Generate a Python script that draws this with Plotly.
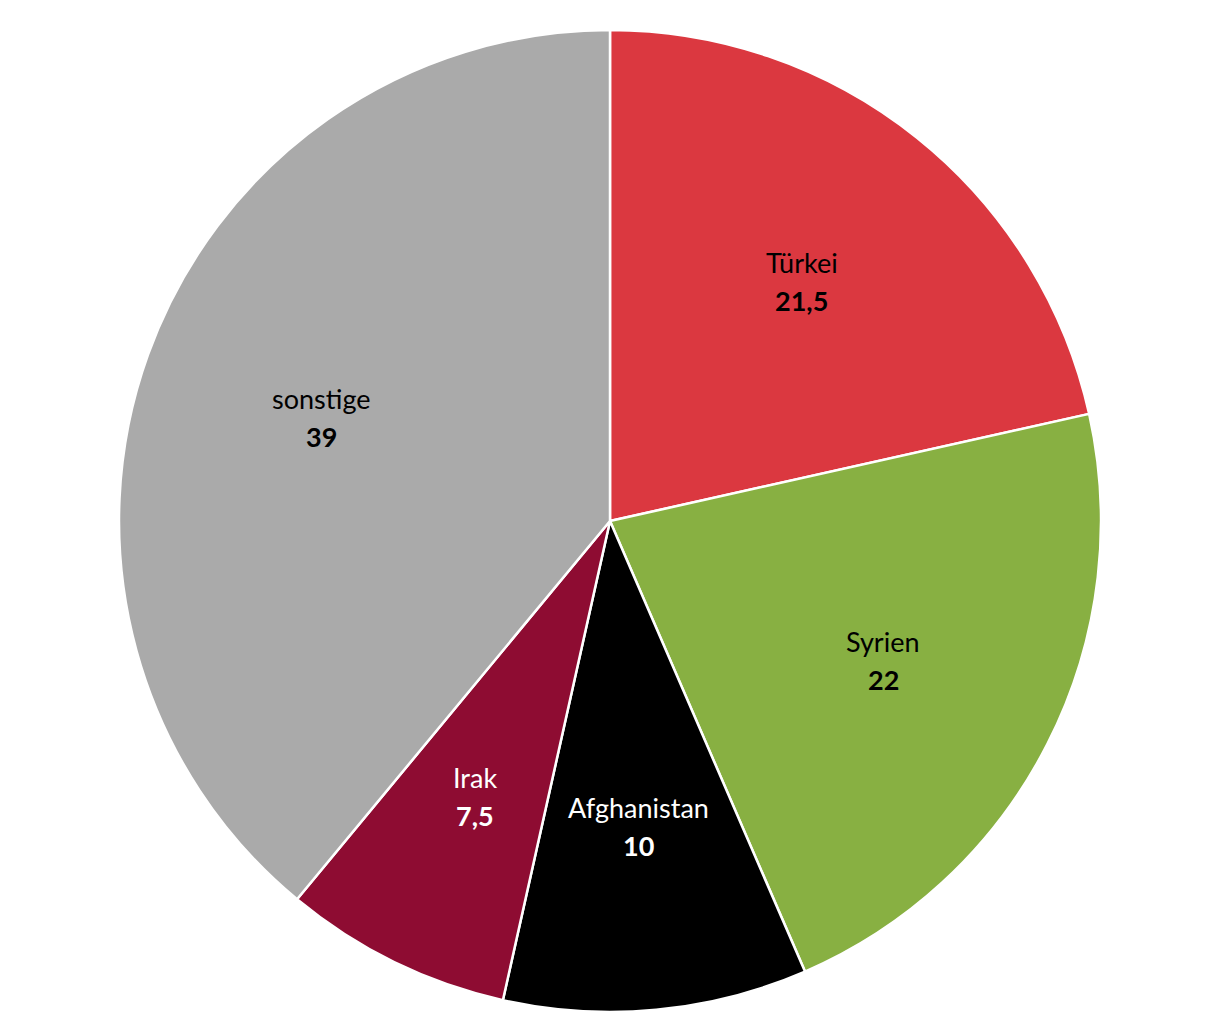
import math
import plotly.graph_objects as go

labels = ["Türkei", "Syrien", "Afghanistan", "Irak", "sonstige"]
values = [21.5, 22, 10, 7.5, 39]
value_text = ["21,5", "22", "10", "7,5", "39"]
colors = ["#DB3840", "#88B042", "#000000", "#8E0C32", "#AAAAAA"]
text_colors = ["#000000", "#000000", "#FFFFFF", "#FFFFFF", "#000000"]

W, H = 1220, 1024
# pie placement (figure pixels; page has 8px body offset)
cx, cy, R = 602, 513, 491
dom_x = [(cx - R) / W, (cx + R) / W]
dom_y = [1 - (cy + R) / H, 1 - (cy - R) / H]

fig = go.Figure(go.Pie(
    labels=labels,
    values=values,
    sort=False,
    direction="clockwise",
    rotation=0,
    marker=dict(colors=colors, line=dict(color="#FFFFFF", width=2.5)),
    textinfo="none",
    hoverinfo="label+value",
    showlegend=False,
    domain=dict(x=dom_x, y=dom_y),
))

# label positions derived from the slice mid-angles
total = sum(values)
cum = 0.0
label_r = 0.625
for lab, val, vt, tc in zip(labels, values, value_text, text_colors):
    mid = (cum + val / 2) / total * 2 * math.pi
    cum += val
    px = cx + label_r * R * math.sin(mid)
    py = cy - label_r * R * math.cos(mid)
    ax = px / W
    ay = 1 - py / H
    fig.add_annotation(x=ax, y=ay, xref="paper", yref="paper", text=lab,
                       showarrow=False, yshift=19, xanchor="center", yanchor="middle",
                       font=dict(family="Lato", size=27, color=tc))
    fig.add_annotation(x=ax, y=ay, xref="paper", yref="paper", text="<b>" + vt + "</b>",
                       showarrow=False, yshift=-19, xanchor="center", yanchor="middle",
                       font=dict(family="Lato", size=27, color=tc))

fig.update_layout(
    width=W, height=H,
    margin=dict(l=0, r=0, t=0, b=0),
    paper_bgcolor="#FFFFFF",
    separators=",.",
)
fig.write_html("out.html")
